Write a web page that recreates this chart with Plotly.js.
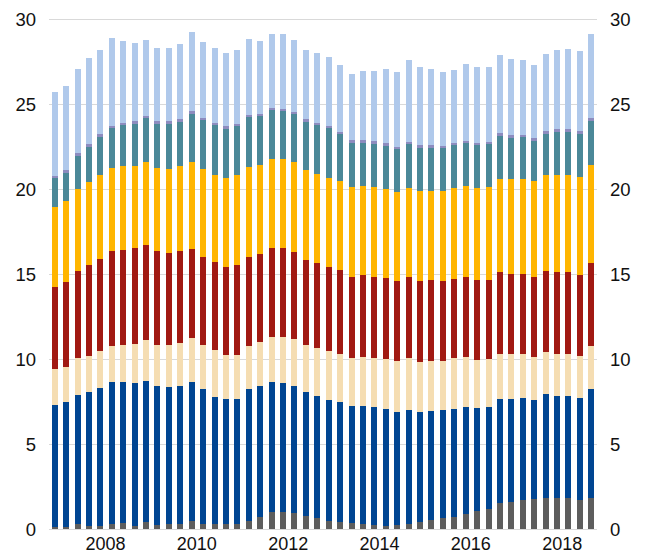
<!DOCTYPE html>
<html>
<head>
<meta charset="utf-8">
<script src="https://cdn.plot.ly/plotly-3.0.1.min.js"></script>
<style>html,body{margin:0;padding:0;background:#fff;}#chart{width:648px;height:555px;}</style>
</head>
<body>
<div id="chart"></div>
<script>
// Quarterly categories 2007Q1 .. 2018Q4
const categories = [];
for (let y = 2007; y <= 2018; y++) { for (let q = 1; q <= 4; q++) categories.push(y + "Q" + q); }

const tickLabels = ["2008", "2010", "2012", "2014", "2016", "2018"];
const yTicks = [0, 5, 10, 15, 20, 25, 30];

// Series (stacked bottom to top)
const seriesGray = [0.15,0.15,0.33,0.20,0.20,0.30,0.40,0.20,0.45,0.25,0.35,0.35,
  0.50,0.30,0.35,0.30,0.30,0.50,0.75,1.00,1.00,0.95,0.80,0.70,
  0.49,0.43,0.39,0.33,0.24,0.22,0.29,0.33,0.43,0.55,0.69,0.75,
  0.92,1.08,1.22,1.57,1.63,1.75,1.82,1.84,1.85,1.86,1.73,1.86];
const seriesBlue = [7.20,7.36,7.57,7.86,8.13,8.35,8.25,8.39,8.28,8.20,8.06,8.08,
  8.15,7.95,7.43,7.37,7.37,7.75,7.68,7.69,7.61,7.48,7.28,7.16,
  7.12,7.08,6.88,6.92,6.94,6.88,6.65,6.71,6.49,6.41,6.33,6.35,
  6.28,6.06,5.98,6.10,6.04,6.00,5.81,6.12,5.99,6.02,6.03,6.41];
const seriesWheat = [2.08,2.06,2.16,2.16,2.16,2.15,2.19,2.35,2.41,2.43,2.43,2.53,
  2.64,2.59,2.75,2.58,2.62,2.53,2.57,2.66,2.74,2.77,2.76,2.83,
  2.90,2.84,2.79,2.87,2.88,2.92,2.96,3.06,2.94,2.94,2.88,2.96,
  2.94,2.84,2.80,2.68,2.64,2.56,2.53,2.51,2.51,2.47,2.44,2.51];
const seriesRed = [4.84,4.96,5.14,5.33,5.45,5.57,5.61,5.59,5.59,5.49,5.41,5.41,
  5.22,5.20,5.20,5.22,5.26,5.26,5.20,5.18,5.18,5.15,5.04,4.96,
  4.94,4.92,4.82,4.84,4.82,4.78,4.73,4.76,4.77,4.75,4.71,4.70,
  4.70,4.69,4.67,4.77,4.73,4.73,4.70,4.75,4.79,4.79,4.78,4.87];
const seriesAmber = [4.71,4.78,4.82,4.90,4.90,4.90,4.92,4.88,4.88,4.92,4.97,5.02,
  5.12,5.14,5.15,5.22,5.29,5.29,5.25,5.25,5.25,5.26,5.28,5.25,
  5.22,5.24,5.26,5.24,5.24,5.22,5.21,5.22,5.29,5.29,5.31,5.32,
  5.36,5.41,5.47,5.49,5.57,5.57,5.65,5.66,5.70,5.72,5.77,5.78];
const seriesTeal = [1.67,1.69,1.96,2.06,2.24,2.32,2.41,2.47,2.57,2.59,2.64,2.59,
  2.82,2.90,2.92,2.88,2.87,2.91,2.88,2.91,2.85,2.82,2.82,2.88,
  2.92,2.73,2.62,2.56,2.57,2.55,2.53,2.59,2.51,2.53,2.51,2.53,
  2.55,2.55,2.53,2.55,2.45,2.47,2.37,2.39,2.55,2.53,2.52,2.59];
const seriesPurple = [0.13,0.14,0.18,0.16,0.16,0.16,0.12,0.14,0.15,0.14,0.16,0.14,
  0.16,0.14,0.14,0.16,0.13,0.13,0.14,0.13,0.13,0.14,0.14,0.14,
  0.14,0.15,0.14,0.14,0.15,0.16,0.16,0.13,0.16,0.14,0.14,0.15,
  0.13,0.13,0.13,0.15,0.16,0.14,0.14,0.20,0.18,0.18,0.16,0.18];
const seriesLightBlue = [4.95,4.96,4.92,5.08,4.98,5.19,4.81,4.59,4.47,4.29,4.29,4.45,
  4.66,4.45,4.37,4.31,4.34,4.47,4.29,4.32,4.38,4.23,4.08,4.12,
  4.05,3.94,3.88,4.08,4.16,4.35,4.37,4.83,4.61,4.47,4.33,4.28,
  4.49,4.46,4.42,4.59,4.43,4.39,4.29,4.49,4.61,4.70,4.71,4.94];

const seriesList = [
  {name: "s1", y: seriesGray, color: "#5d5d5d"},
  {name: "s2", y: seriesBlue, color: "#004592"},
  {name: "s3", y: seriesWheat, color: "#f5ddb2"},
  {name: "s4", y: seriesRed, color: "#a11912"},
  {name: "s5", y: seriesAmber, color: "#ffb500"},
  {name: "s6", y: seriesTeal, color: "#4b8898"},
  {name: "s7", y: seriesPurple, color: "#8d8cbf"},
  {name: "s8", y: seriesLightBlue, color: "#b0c9eb"}
];

const xIdx = categories.map((c, i) => i);
const traces = seriesList.map(s => ({
  type: "bar", x: xIdx, y: s.y, name: s.name,
  marker: {color: s.color, line: {width: 0}},
  hoverinfo: "skip", showlegend: false
}));
// empty helper trace so the right-hand axis is drawn
traces.push({type: "scatter", mode: "markers", x: [], y: [], yaxis: "y2",
  hoverinfo: "skip", showlegend: false});

const tickPos = tickLabels.map(t => categories.indexOf(t + "Q1") + 0.45);

const axisFont = {family: "Liberation Sans, Arial, sans-serif", size: 18.5, color: "#111"};
const xFont = {family: "Liberation Sans, Arial, sans-serif", size: 18, color: "#111"};
// small padding so that the gridlines at 0 and 30 are kept by Plotly
const yRange = [-0.09, 30.09];

const layout = {
  width: 648, height: 555,
  margin: {l: 49, r: 51, t: 18, b: 24, pad: 0},
  barmode: "stack", bargap: 0.48,
  paper_bgcolor: "#fff", plot_bgcolor: "#fff",
  font: axisFont,
  xaxis: {
    range: [-0.5, 47.5], tickmode: "array", tickvals: tickPos, ticktext: tickLabels,
    showgrid: false, zeroline: false, showline: false, ticks: "", ticklabelstandoff: 0,
    tickfont: xFont
  },
  yaxis: {
    range: yRange, tickmode: "array", tickvals: yTicks, showgrid: true,
    gridcolor: "#d9d9d9", gridwidth: 1.3, zeroline: false, showline: false, ticks: "",
    ticklabelstandoff: 12, tickfont: axisFont
  },
  yaxis2: {
    range: yRange, tickmode: "array", tickvals: yTicks, overlaying: "y", side: "right",
    showgrid: false, zeroline: false, showline: false, ticks: "",
    ticklabelstandoff: 12, tickfont: axisFont
  }
};

Plotly.newPlot("chart", traces, layout, {staticPlot: true, displayModeBar: false});
</script>
</body>
</html>
